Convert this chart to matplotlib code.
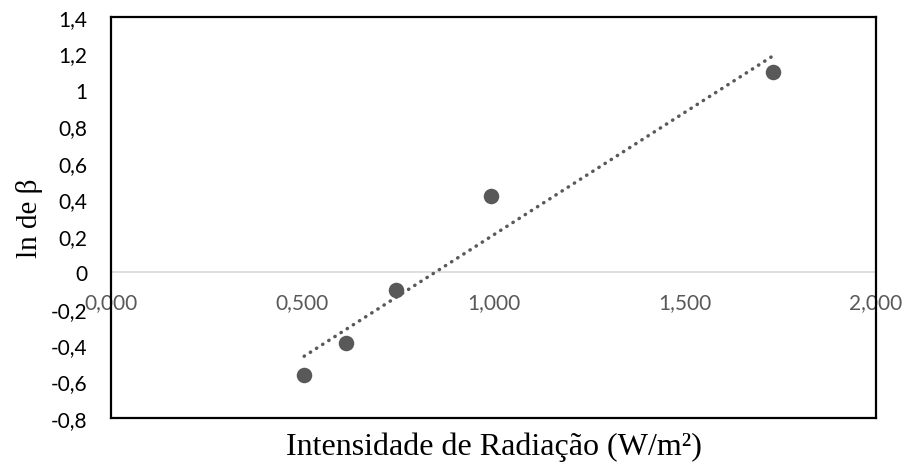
import numpy as np
import matplotlib.pyplot as plt
from matplotlib.ticker import FuncFormatter

# Intensidade de radiação e ln de beta
intensidade = [0.505, 0.614, 0.744, 0.993, 1.732]
ln_beta = [-0.562, -0.390, -0.096, 0.418, 1.098]

x_ticks = [0.0, 0.5, 1.0, 1.5, 2.0]
y_ticks = [-0.8, -0.6, -0.4, -0.2, 0.0, 0.2, 0.4, 0.6, 0.8, 1.0, 1.2, 1.4]

cinza = '#595959'
fonte_num = ['Lato', 'DejaVu Sans']
fonte_txt = ['Liberation Serif', 'DejaVu Serif']

fig = plt.figure(figsize=(9.07, 4.64), dpi=100)
ax = fig.add_axes([0.1224, 0.097, 0.8434, 0.8642])

ymin, ymax = -0.8, 1.4
ax.set_xlim(0, 2)
ax.set_ylim(ymin, ymax)

# Linha de tendência linear
coef = np.polyfit(intensidade, ln_beta, 1)
xt = np.array([min(intensidade), max(intensidade)])
ax.plot(xt, np.polyval(coef, xt), color=cinza, lw=2.5,
        linestyle=(0, (0.1, 2.0)), dash_capstyle='round', zorder=2)

ax.scatter(intensidade, ln_beta, s=125, color=cinza, zorder=3, linewidths=0)

# Caixa do gráfico
for lado in ax.spines.values():
    lado.set_color('black')
    lado.set_linewidth(1.6)

ax.set_xticks([])
ax.set_yticks(y_ticks)
ax.yaxis.set_major_formatter(FuncFormatter(
    lambda v, p: ('%g' % round(v, 1)).replace('.', ',')))
ax.tick_params(axis='y', length=0, pad=17, labelsize=15, labelcolor='black')
for t in ax.get_yticklabels():
    t.set_family(fonte_num)

# Eixo horizontal em y = 0
eixo_zero = ax.secondary_xaxis((0 - ymin) / (ymax - ymin))
eixo_zero.spines['bottom'].set_color('#d9d9d9')
eixo_zero.spines['bottom'].set_linewidth(1.2)
eixo_zero.set_xticks(x_ticks)
eixo_zero.xaxis.set_major_formatter(FuncFormatter(
    lambda v, p: ('%.3f' % v).replace('.', ',')))
eixo_zero.tick_params(axis='x', length=0, pad=14, labelsize=15, labelcolor=cinza)
for t in eixo_zero.get_xticklabels():
    t.set_family(fonte_num)

ax.set_xlabel('Intensidade de Radiação (W/m²)', family=fonte_txt, fontsize=23)
ax.set_ylabel('ln de β', family=fonte_txt, fontsize=21)
ax.xaxis.set_label_coords(0.5, -0.033)
ax.yaxis.set_label_coords(-0.089, 0.5)

fig.savefig('out.png', dpi=100)
